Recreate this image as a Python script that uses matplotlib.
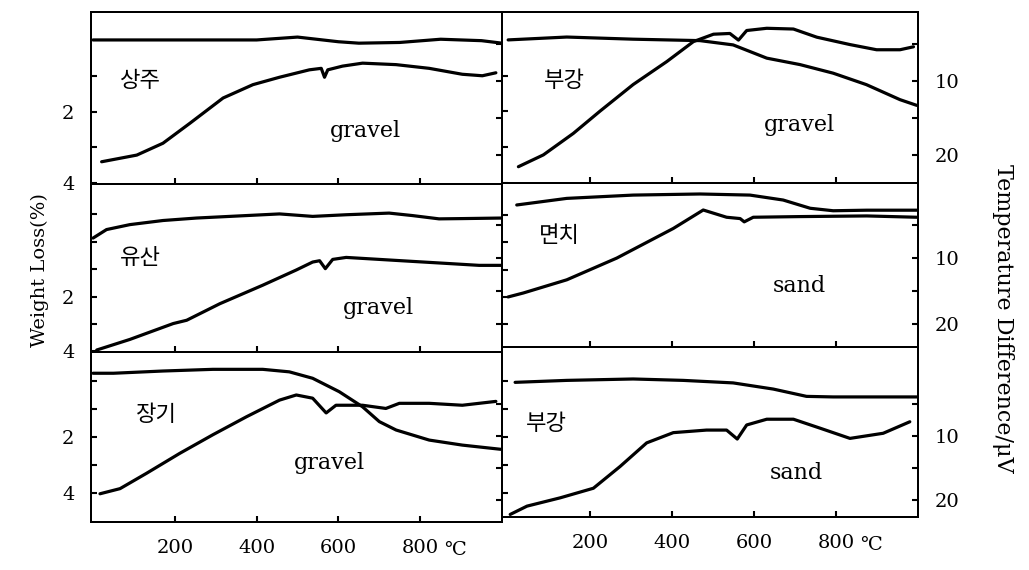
import matplotlib
matplotlib.use("Agg")
import matplotlib.pyplot as plt

# === Data ===
# x = temperature (C); tg = weight loss (%), dta = temperature difference (uV)

# 상주 gravel (top left)
sangju_tg_t = [0, 100, 200, 300, 400, 500, 600, 650, 750, 850, 950, 1000]
sangju_tg = [0.0, 0.0, 0.0, 0.0, 0.0, -0.08, 0.05, 0.09, 0.07, -0.02, 0.02, 0.09]
sangju_dta_t = [21, 107, 171, 237, 318, 391, 456, 529, 558, 566, 574, 610, 659, 741, 822, 903, 952, 985]
sangju_dta = [20.9, 20.0, 18.4, 15.7, 12.3, 10.5, 9.5, 8.5, 8.3, 9.5, 8.5, 8.0, 7.6, 7.8, 8.3, 9.1, 9.3, 8.9]

# 부강 gravel (top right)
bugang_g_tg_t = [0, 143, 305, 468, 549, 631, 712, 793, 874, 956, 997]
bugang_g_tg = [0.0, -0.08, -0.02, 0.02, 0.14, 0.51, 0.69, 0.93, 1.25, 1.67, 1.83]
bugang_g_dta_t = [25, 86, 159, 224, 305, 387, 452, 501, 541, 562, 582, 631, 696, 753, 834, 899, 956, 989]
bugang_g_dta = [21.6, 20.0, 17.1, 14.1, 10.5, 7.4, 4.7, 3.7, 3.6, 4.5, 3.2, 2.9, 3.0, 4.1, 5.1, 5.8, 5.8, 5.4]

# 유산 gravel (middle left)
yusan_tg_t = [0, 33, 90, 171, 253, 375, 456, 537, 619, 724, 781, 846, 903, 1000]
yusan_tg = [-0.13, -0.44, -0.62, -0.77, -0.86, -0.95, -1.01, -0.92, -0.98, -1.04, -0.95, -0.83, -0.84, -0.86]
yusan_dta_t = [9, 90, 196, 229, 310, 415, 497, 537, 554, 568, 586, 619, 700, 781, 863, 944, 1000]
yusan_dta = [23.9, 22.3, 19.9, 19.4, 16.9, 14.1, 11.8, 10.6, 10.4, 11.6, 10.2, 9.9, 10.2, 10.5, 10.8, 11.1, 11.1]

# 면치 sand (middle right)
myeonchi_tg_t = [21, 143, 305, 468, 590, 671, 737, 793, 875, 997]
myeonchi_tg = [-1.35, -1.59, -1.71, -1.75, -1.71, -1.53, -1.23, -1.14, -1.16, -1.16]
myeonchi_dta_t = [0, 37, 143, 265, 403, 476, 533, 566, 576, 598, 712, 875, 997]
myeonchi_dta = [15.9, 15.3, 13.3, 10.0, 5.5, 2.7, 3.8, 4.0, 4.5, 3.8, 3.7, 3.6, 3.8]

# 장기 gravel (bottom left)
janggi_tg_t = [0, 50, 171, 293, 415, 480, 537, 602, 659, 700, 741, 822, 903, 997]
janggi_tg = [-0.28, -0.28, -0.36, -0.42, -0.42, -0.33, -0.10, 0.38, 0.92, 1.45, 1.75, 2.11, 2.29, 2.44]
janggi_dta_t = [17, 66, 131, 212, 293, 375, 456, 497, 537, 570, 594, 659, 716, 749, 822, 903, 985]
janggi_dta = [19.0, 18.2, 15.8, 12.7, 9.8, 7.0, 4.4, 3.6, 4.1, 6.4, 5.2, 5.2, 5.7, 4.9, 4.9, 5.2, 4.6]

# 부강 sand (bottom right)
bugang_s_tg_t = [17, 143, 305, 427, 549, 647, 728, 793, 997]
bugang_s_tg = [0.06, -0.01, -0.06, -0.01, 0.08, 0.30, 0.56, 0.58, 0.58]
bugang_s_dta_t = [5, 46, 127, 208, 273, 338, 403, 484, 533, 559, 582, 631, 696, 761, 834, 915, 980]
bugang_s_dta = [22.3, 21.0, 19.7, 18.2, 14.8, 11.1, 9.5, 9.1, 9.1, 10.5, 8.3, 7.4, 7.4, 8.8, 10.4, 9.6, 7.8]

temp_ticks = [200, 400, 600, 800]

SERIF = ["DejaVu Serif"]
KOREAN = ["Noto Sans CJK KR", "DejaVu Sans"]
W, H = 1029, 570


def rect(x0, x1, y0, y1):
    # pixel box -> figure fraction
    return [x0 / W, 1 - y1 / H, (x1 - x0) / W, (y1 - y0) / H]


def draw_panel(fig, box, xlim, wlim, wticks, dlim, tg_t, tg, dta_t, dta,
               name, name_xy, kind, kind_xy, left_lab, right_lab, bottom_lab):
    ax = fig.add_axes(box)
    ax2 = ax.twinx()
    ax.plot(tg_t, tg, color="black", lw=2.3, solid_capstyle="round", solid_joinstyle="round")
    ax2.plot(dta_t, dta, color="black", lw=2.3, solid_capstyle="round", solid_joinstyle="round")
    ax.set_xlim(*xlim)
    ax.set_ylim(*wlim)
    ax2.set_ylim(*dlim)

    ax.set_yticks(wticks)
    ax.set_yticklabels([str(v) if v in (2, 4) and left_lab else "" for v in wticks])
    ax2.set_yticks([5, 10, 15, 20])
    ax2.set_yticklabels(["", "10", "", "20"] if right_lab else ["", "", "", ""])
    ax.set_xticks(temp_ticks)
    ax.set_xticklabels([str(v) for v in temp_ticks] if bottom_lab else [""] * 4)

    for a in (ax, ax2):
        a.tick_params(direction="in", length=4, width=1.5, labelsize=14, pad=12)
        for s in a.spines.values():
            s.set_linewidth(1.4)
    for lab in ax.get_xticklabels() + ax.get_yticklabels() + ax2.get_yticklabels():
        lab.set_family(SERIF)

    ax.text(name_xy[0], name_xy[1], name, transform=ax.transAxes, fontsize=16,
            family=KOREAN, ha="center", va="center")
    ax.text(kind_xy[0], kind_xy[1], kind, transform=ax.transAxes, fontsize=16,
            family=SERIF, ha="center", va="center")
    if bottom_lab:
        ax.text(885, -0.165, "℃", transform=ax.get_xaxis_transform(), fontsize=14,
                family=SERIF, ha="center", va="center")
    return ax


fig = plt.figure(figsize=(10.29, 5.70), dpi=100)

draw_panel(fig, rect(91, 502, 12, 184), (-5, 1000), (4.02, -0.78), [1, 2, 3, 4], (23.9, 0.7),
           sangju_tg_t, sangju_tg, sangju_dta_t, sangju_dta,
           "상주", (0.12, 0.60), "gravel", (0.667, 0.31), True, False, False)
draw_panel(fig, rect(502, 918, 12, 183), (-15, 1000), (3.97, -0.78), [1, 2, 3, 4], (23.8, 0.7),
           bugang_g_tg_t, bugang_g_tg, bugang_g_dta_t, bugang_g_dta,
           "부강", (0.15, 0.60), "gravel", (0.716, 0.34), False, True, False)
draw_panel(fig, rect(91, 502, 184, 352), (-5, 1000), (4.02, -2.1), [-1, 0, 1, 2, 3, 4], (24.2, -1.2),
           yusan_tg_t, yusan_tg, yusan_dta_t, yusan_dta,
           "유산", (0.12, 0.56), "gravel", (0.70, 0.26), True, False, False)
draw_panel(fig, rect(502, 918, 183, 347), (-15, 1000), (3.82, -2.15), [-1, 0, 1, 2, 3], (23.5, -1.4),
           myeonchi_tg_t, myeonchi_tg, myeonchi_dta_t, myeonchi_dta,
           "면치", (0.137, 0.68), "sand", (0.714, 0.37), False, True, False)
draw_panel(fig, rect(91, 502, 352, 522), (-5, 1000), (5.04, -1.04), [0, 1, 2, 3, 4], (23.4, -3.1),
           janggi_tg_t, janggi_tg, janggi_dta_t, janggi_dta,
           "장기", (0.158, 0.63), "gravel", (0.579, 0.35), True, False, True)
draw_panel(fig, rect(502, 918, 347, 517), (-15, 1000), (4.86, -1.2), [0, 1, 2, 3, 4], (22.7, -3.9),
           bugang_s_tg_t, bugang_s_tg, bugang_s_dta_t, bugang_s_dta,
           "부강", (0.106, 0.55), "sand", (0.707, 0.26), False, True, True)

fig.text(40 / W, 1 - 270 / H, "Weight Loss(%)", rotation=90, fontsize=14,
         family=SERIF, ha="center", va="center")
fig.text(1003 / W, 1 - 318 / H, "Temperature Difference/μV", rotation=270, fontsize=16,
         family=SERIF, ha="center", va="center")

fig.savefig("out.png", dpi=100)
